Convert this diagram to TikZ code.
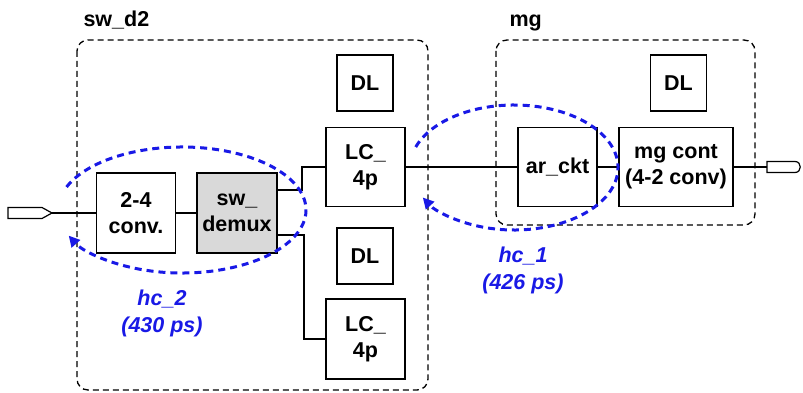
\documentclass[tikz,border=0pt]{standalone}
\usepackage{fontspec}
\setmainfont{Liberation Sans}
\usetikzlibrary{arrows.meta,calc}
\definecolor{hcblue}{RGB}{25,25,230}
\definecolor{boxgray}{RGB}{217,217,217}
\begin{document}
\begin{tikzpicture}[x=1pt,y=-1pt,
  every node/.style={font=\fontsize{21.5}{26}\selectfont\bfseries},
  blk/.style={draw,line width=1.3pt,align=center,inner sep=0pt},
  sq/.style={blk,minimum width=56pt,minimum height=56pt},
  big/.style={blk,minimum width=79pt,minimum height=79pt},
  wire/.style={line width=1.3pt},
  grp/.style={draw,line width=1.3pt,dash pattern=on 6pt off 4pt,rounded corners=11pt},
  hc/.style={hcblue,line width=3pt,dash pattern=on 7pt off 5pt,-{Triangle[length=11pt,width=11pt]}},
  hclbl/.style={hcblue,align=center,font=\fontsize{21.5}{27}\selectfont\bfseries\itshape}]
\useasboundingbox (0,0) rectangle (803,393);
% groups
\draw[grp] (77,40) rectangle (428,390);
\draw[grp] (496,40) rectangle (755,225);
\node[anchor=base west] (lsw) at (80,27) {sw\_d2};
\node[anchor=base west] (lmg) at (506,27) {mg};
% blocks
\node[sq] (DLa) at (365,83) {DL};
\node[big] (LCa) at (365.5,167) {LC\_\\4p};
\node[big,minimum height=80pt] (conv) at (136,213) {2-4\\conv.};
\node[big,minimum width=80pt,minimum height=80pt,fill=boxgray] (demux) at (237,213) {sw\_\\demux};
\node[sq] (DLb) at (365,256) {DL};
\node[big,minimum height=80pt] (LCb) at (365.5,339) {LC\_\\4p};
\node[big] (ar) at (557.5,167) {ar\_ckt};
\node[blk,minimum width=114pt,minimum height=79pt] (mgc) at (676,167) {mg cont\\(4-2 conv)};
\node[sq] (DLc) at (678.5,83) {DL};
% pins
\draw[line width=1.2pt] (8,207.5) -- (42,207.5) -- (52,213) -- (42,218.5) -- (8,218.5) -- cycle;
\coordinate (inpin) at (52,213);
\draw[line width=1.2pt] (767,161.5) -- (795,161.5) .. controls (802,161.5) and (802,172.5) .. (795,172.5) -- (767,172.5) -- cycle;
\coordinate (outpin) at (767,167);
% wires
\draw[wire] (inpin) -- (conv.west);
\draw[wire] (conv.east) -- (demux.east -| demux.west);
\coordinate (d1) at (demux.east |- 0,190);
\coordinate (d2) at (demux.east |- 0,235);
\coordinate (j1) at (302,190);
\coordinate (j2) at (304,235);
\draw[wire] (d1) -- (j1) |- (LCa.west);
\draw[wire] (d2) -- (j2) |- (LCb.west);
\draw[wire] (LCa.east) -- (ar.west);
\draw[wire] (ar.east) -- (mgc.west);
\draw[wire] (mgc.east) -- (outpin);
% handshake cycles
\draw[hc] ([shift={(158.6:124pt and 63pt)}]182,210) arc[start angle=158.6,end angle=-156,x radius=124pt,y radius=63pt];
\draw[hc] ([shift={(160.9:104pt and 62.5pt)}]514,167.5) arc[start angle=160.9,end angle=-151.3,x radius=104pt,y radius=62.5pt];
\node[hclbl] (hc2) at (162,313) {hc\_2\\(430 ps)};
\node[hclbl] (hc1) at (523,270) {hc\_1\\(426 ps)};
\end{tikzpicture}
\end{document}
